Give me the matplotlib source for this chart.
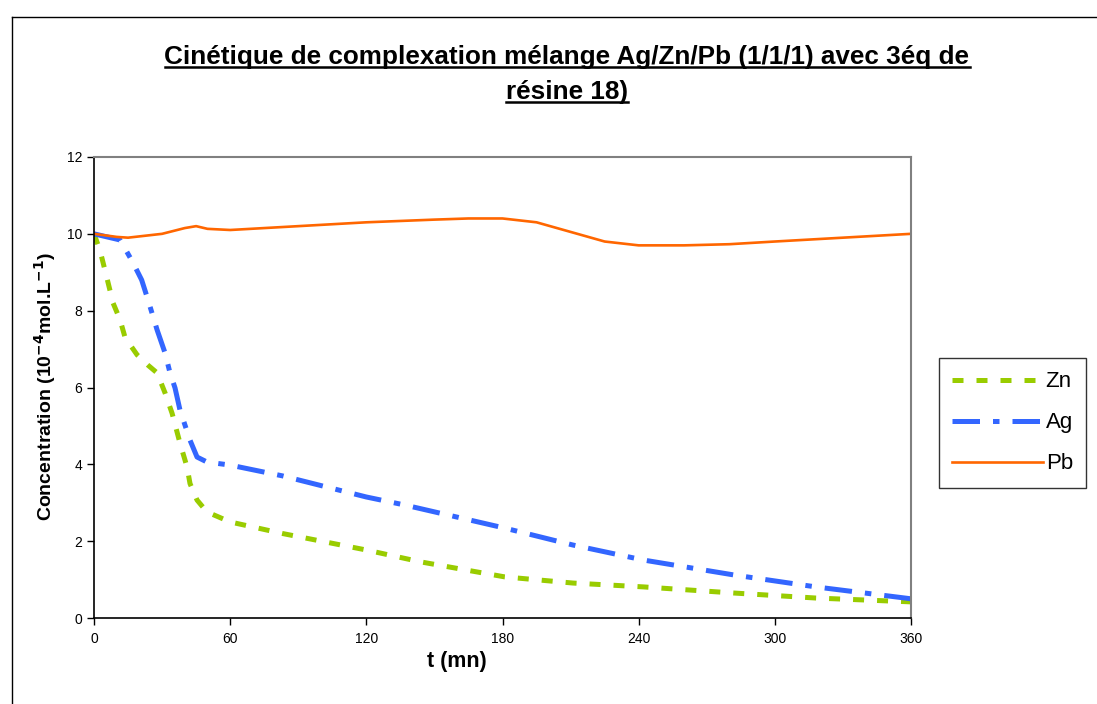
import matplotlib
matplotlib.use("Agg")
import matplotlib.pyplot as plt
from matplotlib.lines import Line2D

plt.rcParams['font.family'] = ['Liberation Sans', 'DejaVu Sans']

# Data
t_zn = [0, 2.6, 5.7, 8.4, 11.5, 13.7, 19, 23.8, 27.8, 31.3, 34.4, 37.9, 41, 42.3, 45.4, 49.8, 60, 83, 120, 144, 181, 211, 242, 282, 318, 360]
c_zn = [10.0, 9.58, 8.85, 8.2, 7.76, 7.3, 6.85, 6.58, 6.38, 5.86, 5.33, 4.55, 3.93, 3.5, 3.07, 2.76, 2.5, 2.2, 1.77, 1.46, 1.07, 0.91, 0.81, 0.65, 0.52, 0.42]

t_ag = [0, 11.5, 17, 21, 23.8, 27.8, 31.3, 33.5, 35.7, 37.9, 42.3, 45.4, 49.8, 60, 83, 120, 137, 181, 211, 242, 282, 318, 360]
c_ag = [10.0, 9.84, 9.27, 8.8, 8.28, 7.5, 6.9, 6.38, 5.99, 5.41, 4.63, 4.19, 4.06, 3.98, 3.7, 3.15, 2.94, 2.34, 1.9, 1.51, 1.12, 0.81, 0.5]

t_pb = [0, 10, 15, 30, 40, 45, 50, 60, 90, 120, 150, 165, 180, 195, 210, 225, 240, 260, 280, 300, 330, 360]
c_pb = [10.0, 9.92, 9.9, 10.0, 10.15, 10.2, 10.13, 10.1, 10.2, 10.3, 10.37, 10.4, 10.4, 10.3, 10.05, 9.8, 9.7, 9.7, 9.73, 9.8, 9.9, 10.0]

x_ticks = [0, 60, 120, 180, 240, 300, 360]
y_ticks = [0, 2, 4, 6, 8, 10, 12]

W, H = 1097, 704
fig = plt.figure(figsize=(W / 100, H / 100), dpi=100)
ax = fig.add_axes([94 / W, 1 - 618 / H, (911 - 94) / W, (618 - 157) / H])

ax.plot(t_zn, c_zn, color='#99CC00', lw=3.6, dashes=(2.2, 2.6), label='Zn', dash_capstyle='butt')
ax.plot(t_ag, c_ag, color='#3366FF', lw=3.6, dashes=(5.5, 2.6, 1.3, 2.6), label='Ag', dash_capstyle='butt')
ax.plot(t_pb, c_pb, color='#FF6600', lw=1.9, label='Pb')

ax.set_xlim(0, 360)
ax.set_ylim(0, 12)
ax.set_xticks(x_ticks)
ax.set_yticks(y_ticks)
ax.tick_params(direction='out', length=5, width=1, labelsize=10, colors='black')
ax.tick_params(axis='x', pad=5)
for s in ['top', 'right']:
    ax.spines[s].set_color('#808080')
    ax.spines[s].set_linewidth(1.5)
for s in ['left', 'bottom']:
    ax.spines[s].set_color('black')
    ax.spines[s].set_linewidth(1.2)

fig.text(457 / W, 1 - 662 / H, 't (mn)', ha='center', va='center', fontsize=15.5, fontweight='bold')
fig.text(45 / W, 1 - 387 / H, 'Concentration (10$^{\\mathbf{-4}}$mol.L$^{\\mathbf{-1}}$)',
         ha='center', va='center', rotation=90, fontsize=14, fontweight='bold')

leg = fig.legend(loc='upper left', bbox_to_anchor=(939 / W, 1 - 358 / H), fontsize=16,
                 frameon=True, fancybox=False, edgecolor='black', handlelength=4.1,
                 handletextpad=0.1, labelspacing=0.9, borderpad=0.6, borderaxespad=0)
leg.get_frame().set_linewidth(1.0)

# Outer chart frame
fig.add_artist(Line2D([12 / W, 12 / W], [0, 1 - 17 / H], color='black', lw=1, transform=fig.transFigure))
fig.add_artist(Line2D([12 / W, 1], [1 - 17 / H, 1 - 17 / H], color='black', lw=1, transform=fig.transFigure))

# Title (underlined)
t1 = fig.text(567 / W, 1 - 57 / H, 'Cinétique de complexation mélange Ag/Zn/Pb (1/1/1) avec 3éq de',
              ha='center', va='center', fontsize=18.8, fontweight='bold')
t2 = fig.text(567 / W, 1 - 92 / H, 'résine 18)', ha='center', va='center', fontsize=18.8, fontweight='bold')
fig.canvas.draw()
r = fig.canvas.get_renderer()
for t in (t1, t2):
    bb = t.get_window_extent(r)
    yline = bb.y0 + 2.5
    fig.add_artist(Line2D([bb.x0 / W, bb.x1 / W], [yline / H, yline / H], color='black', lw=1.8,
                          transform=fig.transFigure))

fig.savefig('out.png', dpi=100)
